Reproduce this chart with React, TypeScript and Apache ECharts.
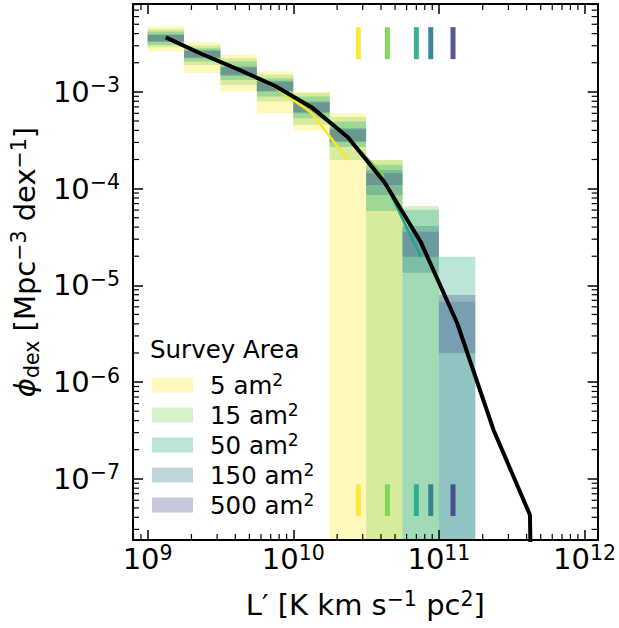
import React, { useEffect, useRef } from 'react';
import * as echarts from 'echarts';

const FONT = 'DejaVu Sans';
const X_MIN = 7.94e8;
const X_MAX = 1.23e12;
const Y_MIN = 2.33e-8;
const Y_MAX = 8.1e-3;

// Survey areas and their viridis colours
const surveyAreas = ['5 am²', '15 am²', '50 am²', '150 am²', '500 am²'];
const surveyColors = ['#fde725', '#7ad151', '#22a884', '#2a788e', '#414487'];

// Luminosity bins (edges and centres), K km s^-1 pc^2
const binEdges = [1.0e9, 1.778e9, 3.162e9, 5.623e9, 1.0e10, 1.778e10, 3.162e10, 5.623e10, 1.0e11, 1.778e11];
const binCenters = [1.334e9, 2.371e9, 4.217e9, 7.499e9, 1.334e10, 2.371e10, 4.217e10, 7.499e10, 1.334e11, 2.371e11, 4.217e11, 7.499e11];

// Box ranges per survey (upper / lower), null = no box, 0 = extends to the floor
const area5Upper = [4.73e-3, 3.24e-3, 2.42e-3, 1.62e-3, 1.0e-3, 6.03e-4, 1.98e-4, null, null];
const area5Lower = [2.61e-3, 1.58e-3, 1.01e-3, 6.03e-4, 3.98e-4, 0, 0, null, null];
const area15Upper = [4.45e-3, 3.01e-3, 2.23e-3, 1.5e-3, 9.77e-4, 5.51e-4, 1.98e-4, 6.62e-5, null];
const area15Lower = [2.9e-3, 1.9e-3, 1.18e-3, 7.94e-4, 4.56e-4, 1.98e-4, 0, 0, null];
const area50Upper = [4.21e-3, 2.83e-3, 2.06e-3, 1.38e-3, 8.94e-4, 4.93e-4, 1.76e-4, 6.03e-5, 1.98e-5];
const area50Lower = [3.06e-3, 2.06e-3, 1.33e-3, 8.94e-4, 5.35e-4, 2.7e-4, 5.87e-5, 0, 0];
const area150Upper = [3.95e-3, 2.72e-3, 1.83e-3, 1.3e-3, 7.94e-4, 4.22e-4, 1.56e-4, 4.11e-5, 6.78e-6];
const area150Lower = [3.27e-3, 2.23e-3, 1.46e-3, 1.01e-3, 6.03e-4, 3.01e-4, 8.61e-5, 1.35e-5, 0];
const area500Upper = [3.88e-3, 2.65e-3, 1.79e-3, 1.27e-3, 7.79e-4, 4.09e-4, 1.44e-4, 3.59e-5, 7.96e-6];
const area500Lower = [3.33e-3, 2.27e-3, 1.5e-3, 1.02e-3, 6.14e-4, 3.08e-4, 1.09e-4, 1.98e-5, 1.99e-6];

// Median lines per survey, and the true luminosity function
const area5Median = [3.66e-3, 2.44e-3, 1.67e-3, 1.12e-3, 6.1e-4, 1.98e-4];
const area15Median = [3.66e-3, 2.45e-3, 1.7e-3, 1.15e-3, 6.95e-4, 3.39e-4, 1.32e-4];
const area50Median = [3.66e-3, 2.45e-3, 1.7e-3, 1.15e-3, 6.95e-4, 3.39e-4, 1.2e-4, 1.97e-5];
const area150Median = [3.66e-3, 2.45e-3, 1.7e-3, 1.15e-3, 6.95e-4, 3.39e-4, 1.17e-4, 2.81e-5, 4.08e-6];
const area500Median = [3.66e-3, 2.45e-3, 1.7e-3, 1.15e-3, 6.95e-4, 3.39e-4, 1.17e-4, 2.81e-5, 4.08e-6];
const trueLF = [3.66e-3, 2.45e-3, 1.7e-3, 1.15e-3, 6.95e-4, 3.39e-4, 1.17e-4, 2.81e-5, 4.08e-6, 3.2e-7, 4.23e-8, 0];

// Limit markers (one per survey)
const markerL = [2.8e10, 4.43e10, 7.0e10, 8.79e10, 1.25e11];
const markerTopRange = [2.18e-3, 4.67e-3];
const markerBottomRange = [4.12e-8, 8.77e-8];

const boxUppers = [area5Upper, area15Upper, area50Upper, area150Upper, area500Upper];
const boxLowers = [area5Lower, area15Lower, area50Lower, area150Lower, area500Lower];
const medians = [area5Median, area15Median, area50Median, area150Median, area500Median];

const FLOOR = 1e-30; // zero on a log axis → drawn at (clipped) floor

const TICK_FS = 29;
const SUP_FS = 20.5;

function hexToRgba(hex: string, a: number) {
  const n = parseInt(hex.slice(1), 16);
  return `rgba(${(n >> 16) & 255},${(n >> 8) & 255},${n & 255},${a})`;
}

function expLabel(v: number) {
  const e = Math.log10(v);
  const r = Math.round(e);
  if (Math.abs(e - r) > 1e-6) return '';
  const s = r < 0 ? '−' + Math.abs(r) : String(r);
  return `{b|10}{s|${s}}`;
}

const tickRich = {
  b: { fontSize: TICK_FS, fontFamily: FONT, color: '#000', lineHeight: 34 },
  s: { fontSize: SUP_FS, fontFamily: FONT, color: '#000', lineHeight: 22, verticalAlign: 'top' },
};

export default function App() {
  const ref = useRef<HTMLDivElement>(null);
  useEffect(() => {
    if (!ref.current) return;
    const chart = echarts.init(ref.current, null, { renderer: 'svg' });

    const boxSeries = surveyAreas.map((name, k) => {
      const data: any[] = [];
      boxUppers[k].forEach((u, i) => {
        if (u == null) return;
        data.push([binEdges[i], binEdges[i + 1], boxLowers[k][i], u]);
      });
      const fill = hexToRgba(surveyColors[k], 0.3);
      return {
        type: 'custom',
        name,
        coordinateSystem: 'cartesian2d',
        itemStyle: { color: fill },
        encode: { x: [0, 1], y: [3] },
        silent: true,
        z: 1,
        data,
        renderItem: (params: any, api: any) => {
          const x0 = api.value(0), x1 = api.value(1), lo = api.value(2), hi = api.value(3);
          const cs = params.coordSys;
          const pA = api.coord([x0, hi]);
          const pB = api.coord([x1, hi]);
          const yBot = lo > 0 ? api.coord([x0, lo])[1] : cs.y + cs.height;
          const shape = echarts.graphic.clipRectByRect(
            { x: pA[0], y: pA[1], width: pB[0] - pA[0], height: yBot - pA[1] },
            cs
          );
          if (!shape) return null;
          return { type: 'rect', shape, style: { fill } };
        },
      };
    });

    const medianSeries = medians.map((m, k) => ({
      type: 'line',
      name: surveyAreas[k] + ' median',
      data: m.map((v, i) => [binCenters[i], v > 0 ? v : FLOOR]),
      showSymbol: false,
      symbol: 'none',
      clip: true,
      silent: true,
      z: 2,
      lineStyle: { color: surveyColors[k], width: 2.5 },
    }));

    const trueSeries = {
      type: 'line',
      name: 'true',
      data: trueLF.map((v, i) => [binCenters[i], v > 0 ? v : FLOOR]),
      showSymbol: false,
      symbol: 'none',
      clip: true,
      silent: true,
      z: 3,
      lineStyle: { color: '#000', width: 4 },
    };

    const markerData: any[] = [];
    markerL.forEach((L, k) => {
      markerData.push([L, markerTopRange[0], markerTopRange[1], k]);
      markerData.push([L, markerBottomRange[0], markerBottomRange[1], k]);
    });
    const markerSeries = {
      type: 'custom',
      name: 'markers',
      coordinateSystem: 'cartesian2d',
      encode: { x: 0, y: [1, 2] },
      silent: true,
      z: 4,
      data: markerData,
      renderItem: (params: any, api: any) => {
        const p0 = api.coord([api.value(0), api.value(1)]);
        const p1 = api.coord([api.value(0), api.value(2)]);
        return {
          type: 'line',
          shape: { x1: p0[0], y1: p0[1], x2: p1[0], y2: p1[1] },
          style: { stroke: surveyColors[api.value(3)], lineWidth: 5, opacity: 0.9 },
        };
      },
    };

    // minor ticks (log 2..9)
    const minorX: any[] = [];
    const minorY: any[] = [];
    for (let d = -9; d <= 12; d++) {
      for (let m = 2; m <= 9; m++) {
        const v = m * Math.pow(10, d);
        if (v > X_MIN && v < X_MAX) minorX.push([v, Y_MAX]);
        if (v > Y_MIN && v < Y_MAX) minorY.push([X_MIN, v]);
      }
    }
    const minorLen = 6;
    const minorXSeries = {
      type: 'custom',
      name: 'minorX',
      coordinateSystem: 'cartesian2d',
      encode: { x: 0, y: 1 },
      silent: true,
      z: 10,
      data: minorX,
      renderItem: (params: any, api: any) => {
        const cs = params.coordSys;
        const px = api.coord([api.value(0), api.value(1)])[0];
        const yb = cs.y + cs.height;
        return {
          type: 'group',
          children: [
            { type: 'line', shape: { x1: px, y1: yb, x2: px, y2: yb - minorLen }, style: { stroke: '#000', lineWidth: 1.2 } },
            { type: 'line', shape: { x1: px, y1: cs.y, x2: px, y2: cs.y + minorLen }, style: { stroke: '#000', lineWidth: 1.2 } },
          ],
        };
      },
    };
    const minorYSeries = {
      type: 'custom',
      name: 'minorY',
      coordinateSystem: 'cartesian2d',
      encode: { x: 0, y: 1 },
      silent: true,
      z: 10,
      data: minorY,
      renderItem: (params: any, api: any) => {
        const cs = params.coordSys;
        const py = api.coord([api.value(0), api.value(1)])[1];
        const xr = cs.x + cs.width;
        return {
          type: 'group',
          children: [
            { type: 'line', shape: { x1: cs.x, y1: py, x2: cs.x + minorLen, y2: py }, style: { stroke: '#000', lineWidth: 1.2 } },
            { type: 'line', shape: { x1: xr, y1: py, x2: xr - minorLen, y2: py }, style: { stroke: '#000', lineWidth: 1.2 } },
          ],
        };
      },
    };

    const axisCommon = {
      type: 'log',
      logBase: 10,
      z: 10,
      splitLine: { show: false },
      axisLine: { show: true, onZero: false, lineStyle: { color: '#000', width: 2 } },
      axisTick: { show: true, inside: true, length: 10, lineStyle: { color: '#000', width: 1.5 } },
    };

    const nameRich = {
      a: { fontSize: TICK_FS, fontFamily: FONT, color: '#000', lineHeight: 34 },
      s: { fontSize: SUP_FS, fontFamily: FONT, color: '#000', lineHeight: 22, verticalAlign: 'top' },
      i: { fontSize: TICK_FS, fontFamily: FONT, fontStyle: 'italic', color: '#000', lineHeight: 34 },
      d: { fontSize: SUP_FS, fontFamily: FONT, color: '#000', lineHeight: 22, verticalAlign: 'bottom' },
    };

    const option: any = {
      animation: false,
      backgroundColor: '#fff',
      grid: { left: 131, right: 17, top: 4, bottom: 88, containLabel: false },
      legend: {
        data: surveyAreas,
        orient: 'vertical',
        left: 152,
        top: 371,
        padding: 0,
        itemWidth: 41,
        itemHeight: 15,
        itemGap: 3.5,
        icon: 'rect',
        selectedMode: false,
        formatter: (name: string) => `{t|${name.replace('²', '')}}{s|2}`,
        textStyle: {
          padding: [0, 0, 0, 12],
          rich: {
            t: { fontSize: 24.5, fontFamily: FONT, color: '#000', lineHeight: 28 },
            s: { fontSize: 17, fontFamily: FONT, color: '#000', lineHeight: 18, verticalAlign: 'top' },
          },
        },
      },
      graphic: [
        {
          type: 'text',
          left: 150,
          top: 337,
          style: { text: 'Survey Area', fontSize: 24.5, fontFamily: FONT, fill: '#000' },
        },
      ],
      xAxis: [
        {
          ...axisCommon,
          position: 'bottom',
          min: X_MIN,
          max: X_MAX,
          axisLabel: { formatter: expLabel, rich: tickRich, margin: 2 },
          name: '{a|L′ [K km s}{s|−1}{a| pc}{s|2}{a|]}',
          nameLocation: 'middle',
          nameGap: 48,
          nameTextStyle: { rich: nameRich },
        },
        {
          ...axisCommon,
          position: 'top',
          min: X_MIN,
          max: X_MAX,
          axisLabel: { show: false },
        },
      ],
      yAxis: [
        {
          ...axisCommon,
          position: 'left',
          min: Y_MIN,
          max: Y_MAX,
          axisLabel: { formatter: expLabel, rich: tickRich, margin: 13 },
          name: '{i|ϕ}{d|dex}{a| [Mpc}{s|−3}{a| dex}{s|−1}{a|]}',
          nameLocation: 'middle',
          nameGap: 81,
          nameTextStyle: { rich: nameRich, padding: [0, 0, 0, 20] },
        },
        {
          ...axisCommon,
          position: 'right',
          min: Y_MIN,
          max: Y_MAX,
          axisLabel: { show: false },
        },
      ],
      series: [...boxSeries, ...medianSeries, trueSeries, markerSeries, minorXSeries, minorYSeries],
    };

    chart.setOption(option);
    return () => chart.dispose();
  }, []);

  return (
    <div
      ref={ref}
      style={{ position: 'absolute', left: 0, top: 0, width: 619, height: 628 }}
    />
  );
}
